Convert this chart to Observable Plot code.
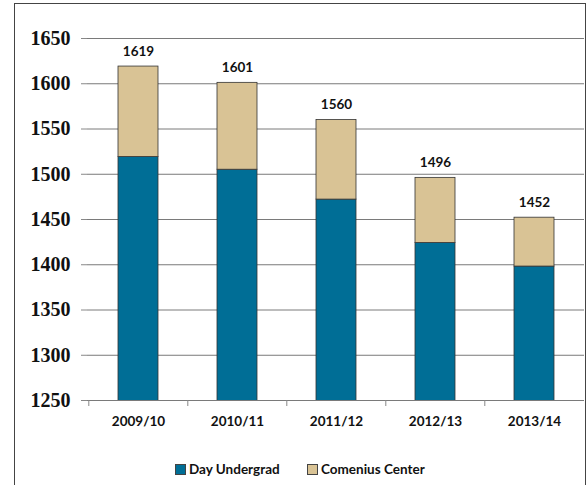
<!DOCTYPE html>
<html>
<head>
<meta charset="utf-8">
<script src="https://cdn.jsdelivr.net/npm/d3@7"></script>
<script src="https://cdn.jsdelivr.net/npm/@observablehq/plot@0.6"></script>
<style>
  html, body { margin: 0; padding: 0; background: #fff; }
  #wrap { position: relative; width: 587px; height: 485px; overflow: hidden; }
  #border { position: absolute; left: 14px; top: 3px; width: 570px; height: 520px;
            border-left: 1px solid #444; border-top: 1px solid #444; border-right: 1px solid #444; }
  #chart { position: absolute; left: 0; top: 0; }
  #chart g[aria-label="y-axis tick label"] text,
  #chart g[aria-label="y-axis tick label"] {
    font-family: "Liberation Serif", "Times New Roman", serif !important;
    font-weight: bold !important; font-size: 20px !important;
  }
  .leg { position: absolute; top: 461px; font: bold 13.5px Lato, sans-serif; color: #111; display: flex; align-items: center; white-space: nowrap; }
  .sw { width: 9px; height: 9px; border: 1px solid #444; margin-right: 3px; }
</style>
</head>
<body>
<div id="wrap">
  <div id="border"></div>
  <div id="chart"></div>
</div>
<script>
const years = ["2009/10", "2010/11", "2011/12", "2012/13", "2013/14"];
const dayUndergrad = [1519, 1505, 1472, 1424, 1398];
const totals = [1619, 1601, 1560, 1496, 1452];
const seriesNames = ["Day Undergrad", "Comenius Center"];
const seriesColors = ["#006E96", "#D9C395"];
const yTicks = [1250, 1300, 1350, 1400, 1450, 1500, 1550, 1600, 1650];

const comenius = totals.map((t, i) => t - dayUndergrad[i]);
const rows = [];
years.forEach((y, i) => {
  rows.push({year: y, series: seriesNames[0], value: dayUndergrad[i]});
  rows.push({year: y, series: seriesNames[1], value: comenius[i]});
});
const totalRows = years.map((y, i) => ({year: y, total: totals[i]}));

const W = 587, H = 440;
const mL = 87, mR = 3, mT = 38, mB = 40;
const step = (W - mL - mR) / years.length;

const chart = Plot.plot({
  width: W, height: H,
  marginLeft: mL, marginRight: mR, marginTop: mT, marginBottom: mB,
  x: {domain: years, paddingInner: 0.6, paddingOuter: 0.3, label: null},
  y: {domain: [1250, 1650], label: null},
  color: {domain: seriesNames, range: seriesColors},
  marks: [
    Plot.ruleY(yTicks, {stroke: "#7a7a7a", strokeWidth: 1}),
    Plot.barY(rows, Plot.stackY({x: "year", y: "value", fill: "series", order: seriesNames, stroke: "#333", strokeWidth: 0.8, clip: true})),
    Plot.text(totalRows, {x: "year", y: "total", text: d => String(d.total), dy: -15, lineAnchor: "middle",
      fontFamily: "Lato, sans-serif", fontWeight: "bold", fontSize: 13.5, fill: "#111"}),
    Plot.axisY({ticks: yTicks, tickSize: 6, tickPadding: 11, line: true, stroke: "#888",
      fontFamily: "'Liberation Serif', 'Times New Roman', serif", fontWeight: "bold", fontSize: 20, fill: "#111", tickFormat: d => String(d)}),
    Plot.axisX({tickSize: 6, text: null, dx: -step / 2, stroke: "#888", line: true}),
    Plot.axisX({tickSize: 0, tickPadding: 16, fontFamily: "Lato, sans-serif", fontWeight: "bold", fontSize: 13.5, fill: "#111"})
  ]
});
document.getElementById("chart").appendChild(chart);

const wrap = document.getElementById("wrap");
const legX = [175, 307];
seriesNames.forEach((name, i) => {
  const item = document.createElement("div");
  item.className = "leg";
  item.style.left = legX[i] + "px";
  const sw = document.createElement("div");
  sw.className = "sw";
  sw.style.background = seriesColors[i];
  const label = document.createElement("span");
  label.textContent = name;
  item.appendChild(sw);
  item.appendChild(label);
  wrap.appendChild(item);
});
</script>
</body>
</html>
